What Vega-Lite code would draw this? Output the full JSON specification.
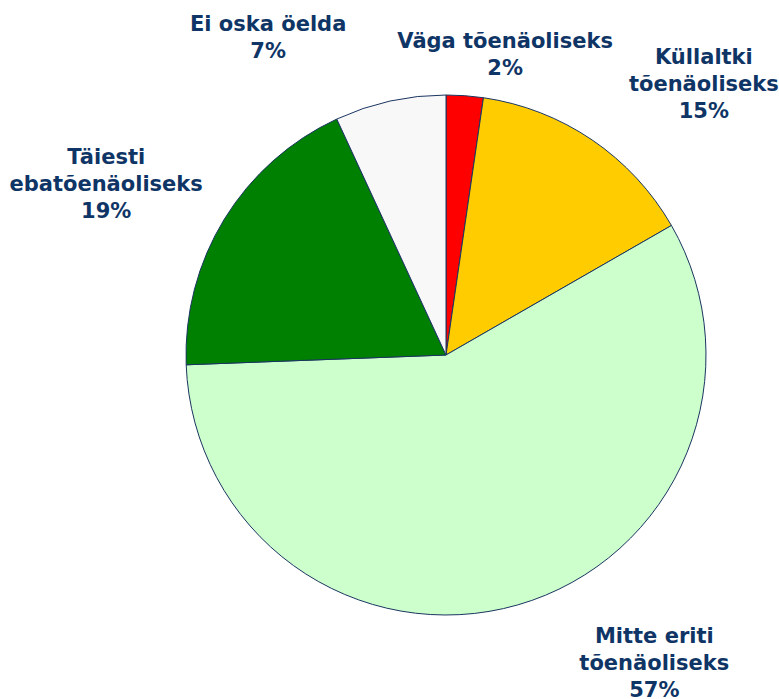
{
  "$schema": "https://vega.github.io/schema/vega-lite/v6.json",
  "width": 666,
  "height": 688,
  "autosize": "none",
  "padding": {"left": 113, "top": 11, "right": 0, "bottom": 0},
  "background": "white",
  "config": {"view": {"stroke": null}},
  "data": {
    "values": [
      {"idx": 1, "cat": "Väga tõenäoliseks", "value": 2.3, "label": "Väga tõenäoliseks\n2%"},
      {"idx": 2, "cat": "Küllaltki tõenäoliseks", "value": 14.4, "label": "Küllaltki\ntõenäoliseks\n15%"},
      {"idx": 3, "cat": "Mitte eriti tõenäoliseks", "value": 57.7, "label": "Mitte eriti\ntõenäoliseks\n57%"},
      {"idx": 4, "cat": "Täiesti ebatõenäoliseks", "value": 18.7, "label": "Täiesti\nebatõenäoliseks\n19%"},
      {"idx": 5, "cat": "Ei oska öelda", "value": 6.9, "label": "Ei oska öelda\n7%"}
    ]
  },
  "encoding": {
    "theta": {"field": "value", "type": "quantitative", "stack": true},
    "order": {"field": "idx", "type": "quantitative"}
  },
  "layer": [
    {
      "mark": {"type": "arc", "outerRadius": 260, "stroke": "#1A3560", "strokeWidth": 1},
      "encoding": {
        "color": {
          "field": "cat",
          "type": "nominal",
          "scale": {
            "domain": ["Väga tõenäoliseks", "Küllaltki tõenäoliseks", "Mitte eriti tõenäoliseks", "Täiesti ebatõenäoliseks", "Ei oska öelda"],
            "range": ["#FF0000", "#FFCC00", "#CCFFCC", "#008000", "#F8F8F8"]
          },
          "legend": null
        }
      }
    },
    {
      "mark": {
        "type": "text",
        "radius": 320,
        "font": "DejaVu Sans",
        "fontWeight": "bold",
        "fontSize": 21,
        "lineBreak": "\n",
        "lineHeight": 27,
        "align": "center",
        "baseline": "alphabetic",
        "fill": "#0F3566",
        "dx": {"expr": "datum.idx == 1 ? 36 : datum.idx == 2 ? 78 : datum.idx == 3 ? 120 : datum.idx == 4 ? -67 : -109"},
        "dy": {"expr": "datum.idx == 1 ? 12 : datum.idx == 2 ? -26 : datum.idx == 3 ? -20 : datum.idx == 4 ? -24 : -11"}
      },
      "encoding": {"text": {"field": "label"}}
    }
  ]
}
